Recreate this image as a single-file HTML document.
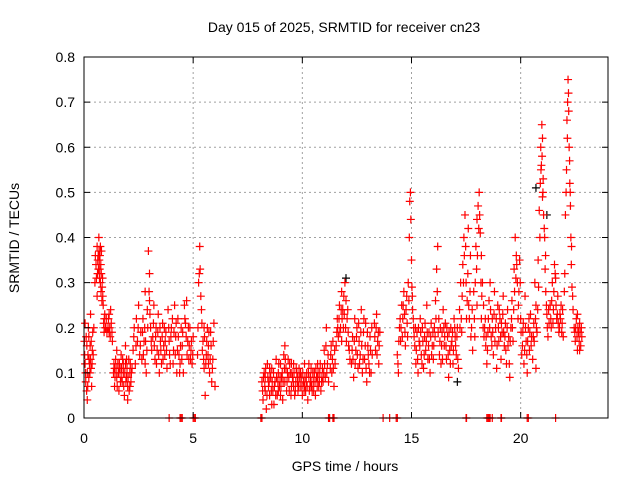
<!DOCTYPE html>
<html><head><meta charset="utf-8"><style>
html,body{margin:0;padding:0;background:#fff;}
svg{display:block;font-family:"Liberation Sans",sans-serif;}
</style></head><body>
<svg id="chart" width="640" height="480" viewBox="0 0 640 480">
<rect x="0" y="0" width="640" height="480" fill="#fff"/>
<text x="344" y="32" font-size="14" text-anchor="middle">Day 015 of 2025, SRMTID for receiver cn23</text>
<text transform="translate(19,238) rotate(-90)" font-size="14" text-anchor="middle">SRMTID / TECUs</text>
<text x="345" y="471" font-size="14" text-anchor="middle">GPS time / hours</text>
<g id="grid"></g><g id="black"></g><g id="red"></g><g id="axes"></g>
</svg>
<script>
const xTicks=[0,5,10,15,20];
const yTicks=[0,0.1,0.2,0.3,0.4,0.5,0.6,0.7,0.8];
const yTickLabels=["0","0.1","0.2","0.3","0.4","0.5","0.6","0.7","0.8"];
const zeroHours=[3.9,4.4,4.45,4.5,5.0,5.05,5.1,8.1,8.15,11.2,11.25,11.4,11.45,13.7,14.0,14.3,14.35,17.5,17.52,18.45,18.5,18.55,18.6,18.7,19.1,19.12,20.3,20.35,21.6];
const blackPoints=[[12.0,0.31],[20.7,0.51],[21.2,0.45],[17.1,0.08]];
const redPoints=[
[0.02,.17],[0.05,.12],[0.08,.08],[0.1,.18],[0.12,.06],[0.15,.1],[0.18,.14],[0.2,.2],[0.22,.09],[0.25,.12],[0.28,.16],[0.3,.23],[0.32,.11],[0.35,.07],[0.38,.15],[0.4,.19],[0.05,.21],[0.15,.04],[0.3,.13],[0.22,.18],
[0.5,.3],[0.55,.34],[0.6,.38],[0.62,.32],[0.65,.36],[0.68,.4],[0.7,.35],[0.72,.33],[0.75,.3],[0.78,.28],[0.8,.37],[0.82,.26],[0.85,.31],[0.88,.25],[0.9,.21],[0.92,.19],[0.95,.23],[1.0,.2],[0.6,.27],[0.75,.38],
[1.1,.2],[1.15,.23],[1.2,.18],[1.25,.21],[1.3,.17],[1.15,.19],
[1.35,.1],[1.4,.07],[1.45,.13],[1.5,.09],[1.55,.12],[1.6,.06],[1.65,.11],[1.7,.14],[1.75,.08],[1.8,.1],[1.85,.05],[1.9,.12],[1.95,.09],[2.0,.07],[2.05,.13],[2.1,.1],[2.15,.08],[2.2,.11],[1.5,.15],[1.9,.16],[2.0,.04],[1.7,.09],
[2.25,.15],[2.3,.2],[2.35,.12],[2.4,.22],[2.45,.17],[2.5,.25],[2.55,.14],[2.6,.19],
[2.65,.13],[2.7,.22],[2.75,.17],[2.8,.28],[2.85,.1],[2.9,.24],[2.95,.37],[3.0,.32],[3.05,.2],[3.1,.15],[2.8,.12],[3.0,.26],
[3.15,.18],[3.2,.25],[3.25,.13],[3.3,.2],[3.35,.15],[3.4,.23],[3.45,.1],[3.5,.17],[3.55,.12],[3.6,.21],[3.65,.16],[3.7,.14],[3.75,.19],[3.8,.11],
[3.85,.24],[3.9,.17],[3.95,.12],[4.0,.2],[4.1,.15],[4.15,.25],[4.2,.18],[4.25,.1],[4.3,.22],[4.35,.14],[4.4,.12],[4.45,.2],[4.5,.16],[4.55,.1],
[4.6,.25],[4.65,.21],[4.7,.26],[4.75,.17],[4.8,.13],[4.85,.2],[4.9,.15],[4.95,.12],[5.0,.18],
[5.2,.14],[5.25,.3],[5.3,.38],[5.32,.33],[5.35,.27],[5.4,.21],[5.45,.17],[5.5,.11],[5.55,.05],[5.6,.14],[5.65,.2],[5.7,.16],[5.75,.1],[5.8,.19],[5.85,.08],[5.9,.13],[5.95,.21],[6.0,.07],[5.5,.2],[5.7,.12],
[8.15,.08],[8.2,.04],[8.25,.1],[8.3,.06],[8.35,.02],[8.4,.12],[8.45,.07],[8.5,.05],[8.55,.09],[8.6,.11],[8.65,.06],[8.7,.03],[8.75,.08],[8.8,.13],[8.85,.05],[8.9,.1],[8.95,.07],[9.0,.12],[9.05,.09],[9.1,.04],[9.15,.14],[9.2,.16],[9.25,.11],[9.3,.08],[9.35,.13],[9.4,.06],[9.45,.1],[9.5,.07],[9.55,.09],[9.6,.12],[9.65,.05],[9.7,.08],[9.75,.1],[9.8,.06],[9.85,.11],[9.9,.07],[9.95,.09],[10.0,.05],[10.05,.08],[10.1,.12],[10.15,.06],[10.2,.1],[10.25,.04],[10.3,.09],[10.35,.07],[10.4,.11],[10.45,.06],[10.5,.08],[10.55,.1],[10.6,.05],[10.65,.09],[10.7,.12],[10.75,.07],[10.8,.1],[10.85,.06],[10.9,.09],[10.95,.08],[8.3,.09],[8.6,.03],[8.9,.06],[9.2,.08],[9.5,.12],[9.8,.09],[10.1,.07],[10.4,.08],[10.7,.09],[8.5,.11],[9.0,.05],[9.6,.07],[10.3,.12],
[11.0,.15],[11.05,.09],[11.1,.2],[11.15,.12],[11.2,.08],[11.3,.14],[11.35,.1],[11.4,.17],[11.45,.07],[11.5,.12],
[11.55,.16],[11.6,.22],[11.65,.18],[11.7,.25],[11.75,.2],[11.8,.28],[11.85,.24],[11.9,.27],[11.95,.3],[12.0,.26],[12.05,.22],[12.1,.19],[12.15,.15],[11.8,.17],
[12.25,.12],[12.3,.18],[12.35,.09],[12.4,.22],[12.45,.15],[12.5,.2],[12.55,.11],[12.6,.17],[12.65,.14],[12.7,.24],[12.75,.1],[12.8,.19],[12.85,.13],[12.9,.21],[12.95,.08],[13.0,.16],[13.05,.12],[13.1,.18],[13.15,.1],[13.2,.14],
[13.3,.21],[13.35,.15],[13.4,.23],[13.45,.17],[13.5,.12],[13.55,.19],
[14.35,.14],[14.4,.1],[14.45,.2],[14.5,.17],[14.55,.25],[14.6,.22],[14.65,.28],[14.7,.19],[14.75,.24],[14.8,.21],[14.85,.3],[14.9,.4],[14.92,.48],[14.95,.5],[14.97,.44],[15.0,.35],[15.02,.29],[15.05,.24],[15.1,.2],
[15.15,.16],[15.2,.12],[15.25,.19],[15.3,.1],[15.35,.17],[15.4,.22],[15.45,.14],[15.5,.2],[15.55,.11],[15.6,.18],[15.65,.15],[15.7,.25],[15.75,.13],[15.8,.19],[15.85,.1],[15.9,.21],[15.95,.16],[16.0,.13],[16.05,.2],[16.1,.26],[16.15,.33],[16.2,.38],[16.25,.22],[16.3,.17],[16.35,.12],[16.4,.19],[16.45,.24],[16.5,.16],[16.55,.21],[16.6,.13],[16.65,.18],[16.7,.09],[16.75,.15],[16.8,.2],[16.85,.17],[16.9,.12],[16.95,.22],[17.0,.18],[17.05,.14],[17.1,.2],[17.15,.11],
[17.2,.24],[17.25,.3],[17.3,.19],[17.35,.34],[17.4,.4],[17.45,.45],[17.5,.3],[17.55,.26],[17.6,.42],[17.65,.22],[17.7,.36],[17.75,.2],[17.8,.15],
[17.85,.28],[17.9,.18],[17.95,.38],[18.0,.44],[18.05,.47],[18.1,.5],[18.12,.45],[18.15,.41],[18.2,.36],[18.25,.3],[18.3,.25],[18.35,.2],[18.4,.16],[18.45,.12],[18.5,.19],[18.0,.25],[18.2,.22],
[18.55,.26],[18.6,.3],[18.65,.18],[18.7,.22],[18.75,.14],[18.8,.28],[18.85,.2],[18.9,.11],[18.95,.25],[19.0,.17],[19.05,.22],[19.1,.13],[19.15,.19],[19.2,.27],[19.25,.16],[19.3,.21],[19.35,.12],[19.4,.24],[19.45,.18],[19.5,.09],
[19.55,.2],[19.6,.26],[19.65,.17],[19.7,.33],[19.75,.4],[19.8,.36],[19.85,.3],[19.9,.25],[19.95,.35],[20.0,.22],[20.05,.14],[20.1,.19],[20.15,.12],[20.2,.27],[20.25,.17],[20.3,.1],[20.35,.2],[20.4,.15],[20.45,.23],[20.5,.18],
[20.55,.13],[20.6,.21],[20.65,.3],[20.7,.25],[20.75,.19],[20.8,.35],[20.85,.46],[20.9,.52],[20.92,.6],[20.95,.56],[20.97,.65],[21.0,.62],[21.02,.5],[21.05,.45],[21.1,.4],[21.12,.33],[21.15,.28],[21.2,.23],[21.25,.18],[21.3,.21],[20.7,.11],[21.0,.49],
[21.35,.25],[21.4,.2],[21.45,.3],[21.5,.24],[21.55,.34],[21.6,.31],[21.65,.22],[21.7,.27],[21.75,.19],[21.8,.23],[21.85,.25],[21.9,.21],[21.95,.18],
[22.0,.28],[22.05,.45],[22.1,.55],[22.12,.66],[22.15,.7],[22.17,.75],[22.2,.68],[22.22,.6],[22.25,.52],[22.28,.47],[22.3,.4],[22.32,.34],[22.35,.29],[22.4,.24],
[22.45,.2],[22.5,.17],[22.55,.22],[22.6,.15],[22.65,.19],[22.7,.21],[22.75,.16],[22.8,.18],[22.6,.23]
];
const redPointsExtra=[
[0.03,.14],[0.07,.1],[0.13,.16],[0.17,.07],[0.23,.13],[0.27,.1],[0.33,.17],[0.37,.12],[0.42,.14],[0.45,.2],
[0.52,.36],[0.57,.31],[0.63,.35],[0.66,.33],[0.69,.37],[0.71,.31],[0.73,.36],[0.77,.34],[0.79,.32],[0.83,.29],[0.86,.27],[0.93,.22],[0.97,.2],[1.02,.22],[1.05,.19],
[1.12,.22],[1.18,.2],[1.22,.24],[1.28,.19],
[1.37,.12],[1.42,.09],[1.47,.11],[1.52,.07],[1.57,.1],[1.62,.12],[1.67,.08],[1.72,.11],[1.77,.13],[1.82,.07],[1.87,.1],[1.92,.08],[1.97,.11],[2.02,.09],[2.07,.06],[2.12,.12],[2.17,.1],[1.6,.1],[1.8,.12],[2.1,.07],[1.4,.11],[1.95,.13],
[2.28,.18],[2.38,.16],[2.48,.2],[2.58,.16],[2.68,.19],[2.72,.14],[2.78,.2],[2.82,.17],[2.88,.15],[2.92,.2],[2.98,.28],[3.02,.23],[3.08,.17],
[3.18,.21],[3.22,.16],[3.28,.18],[3.32,.12],[3.38,.19],[3.42,.14],[3.48,.2],[3.52,.15],[3.58,.18],[3.62,.13],[3.68,.2],[3.72,.17],[3.78,.15],
[3.88,.2],[3.92,.14],[3.98,.18],[4.05,.22],[4.08,.12],[4.12,.19],[4.18,.14],[4.22,.21],[4.28,.15],[4.32,.18],[4.38,.1],[4.42,.16],[4.48,.13],[4.52,.19],[4.62,.22],[4.68,.18],[4.72,.14],[4.78,.2],[4.82,.16],[4.88,.13],[4.92,.17],[4.98,.14],
[5.22,.2],[5.28,.32],[5.38,.24],[5.42,.15],[5.48,.13],[5.52,.18],[5.58,.12],[5.62,.17],[5.68,.14],[5.72,.19],[5.78,.13],[5.82,.16],[5.88,.11],[5.92,.17],
[8.18,.06],[8.22,.09],[8.28,.07],[8.32,.11],[8.38,.05],[8.42,.09],[8.48,.08],[8.52,.1],[8.58,.06],[8.62,.08],[8.68,.1],[8.72,.07],[8.78,.05],[8.82,.09],[8.88,.08],[8.92,.12],[8.98,.09],[9.02,.07],[9.08,.1],[9.12,.08],[9.18,.11],[9.22,.13],[9.28,.06],[9.32,.1],[9.38,.09],[9.42,.12],[9.48,.05],[9.52,.1],[9.58,.08],[9.62,.1],[9.68,.06],[9.72,.11],[9.78,.08],[9.82,.07],[9.88,.09],[9.92,.1],[9.98,.07],[10.02,.1],[10.08,.06],[10.12,.09],[10.18,.08],[10.22,.07],[10.28,.1],[10.32,.06],[10.38,.09],[10.42,.07],[10.48,.1],[10.52,.06],[10.58,.08],[10.62,.11],[10.68,.07],[10.72,.1],[10.78,.08],[10.82,.12],[10.88,.08],[10.92,.11],[10.98,.1],
[11.02,.12],[11.08,.16],[11.12,.1],[11.18,.14],[11.28,.11],[11.32,.16],[11.38,.13],[11.42,.11],[11.48,.15],
[11.58,.19],[11.62,.2],[11.68,.22],[11.72,.19],[11.78,.24],[11.82,.22],[11.88,.2],[11.92,.23],[11.98,.2],[12.02,.17],[12.08,.24],[12.12,.16],[12.18,.13],
[12.28,.15],[12.32,.13],[12.38,.17],[12.42,.12],[12.48,.18],[12.52,.14],[12.58,.21],[12.62,.12],[12.68,.19],[12.72,.16],[12.78,.13],[12.82,.22],[12.88,.16],[12.92,.11],[12.98,.19],[13.02,.14],[13.08,.1],[13.12,.15],[13.18,.2],
[13.32,.18],[13.38,.2],[13.42,.14],[13.48,.19],[13.52,.16],
[14.38,.12],[14.42,.17],[14.48,.22],[14.52,.2],[14.58,.18],[14.62,.25],[14.68,.23],[14.72,.16],[14.78,.27],[14.82,.18],[14.88,.26],[15.04,.27],[15.08,.22],
[15.12,.18],[15.18,.2],[15.22,.15],[15.28,.13],[15.32,.2],[15.38,.16],[15.42,.19],[15.48,.12],[15.52,.17],[15.58,.14],[15.62,.21],[15.68,.17],[15.72,.19],[15.78,.16],[15.82,.13],[15.88,.18],[15.92,.14],[15.98,.19],[16.02,.16],[16.08,.18],[16.12,.22],[16.18,.28],[16.22,.19],[16.28,.14],[16.32,.2],[16.38,.16],[16.42,.13],[16.48,.2],[16.52,.18],[16.58,.16],[16.62,.2],[16.68,.14],[16.72,.19],[16.78,.12],[16.82,.16],[16.88,.19],[16.92,.15],[16.98,.2],[17.02,.16],[17.08,.18],[17.12,.13],
[17.22,.2],[17.28,.22],[17.32,.27],[17.38,.3],[17.42,.36],[17.48,.38],[17.52,.22],[17.58,.32],[17.62,.25],[17.68,.28],[17.72,.18],[17.78,.24],
[17.88,.22],[17.92,.3],[17.98,.33],[18.02,.36],[18.08,.42],[18.18,.3],[18.22,.27],[18.28,.2],[18.32,.18],[18.38,.22],[18.42,.18],[18.48,.15],
[18.52,.22],[18.58,.2],[18.62,.24],[18.68,.16],[18.72,.19],[18.78,.23],[18.82,.17],[18.88,.22],[18.92,.16],[18.98,.2],[19.02,.24],[19.08,.18],[19.12,.21],[19.18,.23],[19.22,.19],[19.28,.18],[19.32,.15],[19.38,.2],[19.42,.16],[19.48,.12],
[19.52,.17],[19.58,.22],[19.62,.2],[19.68,.24],[19.72,.28],[19.78,.31],[19.82,.34],[19.88,.22],[19.92,.28],[19.98,.3],[20.02,.19],[20.08,.16],[20.12,.21],[20.18,.15],[20.22,.2],[20.28,.14],[20.32,.17],[20.38,.22],[20.42,.19],[20.48,.16],
[20.58,.18],[20.62,.17],[20.68,.22],[20.72,.2],[20.78,.24],[20.82,.29],[20.88,.4],[20.93,.55],[20.98,.58],[21.03,.53],[21.08,.42],[21.14,.36],[21.18,.25],[21.22,.2],[21.28,.24],
[21.38,.22],[21.42,.26],[21.48,.21],[21.52,.28],[21.58,.32],[21.62,.25],[21.68,.23],[21.72,.21],[21.78,.2],[21.82,.22],[21.88,.19],[21.92,.24],
[22.02,.32],[22.08,.5],[22.14,.62],[22.19,.72],[22.24,.57],[22.27,.5],[22.33,.38],[22.38,.27],
[22.48,.19],[22.52,.2],[22.58,.18],[22.62,.2],[22.68,.17],[22.72,.19],[22.78,.2],[22.7,.15]
];
const X0=84,X1=608,Y0=418,Y1=57,XMAX=24,YMAX=0.8;
function xs(t){return X0+(X1-X0)*t/XMAX;}
function ys(v){return Y0-(Y0-Y1)*v/YMAX;}
const NS="http://www.w3.org/2000/svg";
function mk(tag,attrs,parent){const e=document.createElementNS(NS,tag);for(const k in attrs)e.setAttribute(k,attrs[k]);parent.appendChild(e);return e;}
const grid=document.getElementById('grid'),axes=document.getElementById('axes');
yTicks.forEach((v,i)=>{
  const y=ys(v);
  if(i>0&&i<yTicks.length-1){const g=mk('line',{x1:X0,x2:X1,y1:y,y2:y,stroke:'#a0a0a0','stroke-dasharray':'2,3'},grid);
  
  }
  mk('line',{x1:X0,x2:X0+6,y1:y,y2:y,stroke:'#000'},axes);
  mk('line',{x1:X1-6,x2:X1,y1:y,y2:y,stroke:'#000'},axes);
  const t=mk('text',{x:X0-9,y:y+5,'font-size':14,'text-anchor':'end'},axes);
  t.textContent=yTickLabels[i];
  
  
});
xTicks.forEach(v=>{
  const x=xs(v);
  if(v>0){const g=mk('line',{x1:x,x2:x,y1:Y1,y2:Y0,stroke:'#a0a0a0','stroke-dasharray':'2,3'},grid);
  
  }
  mk('line',{x1:x,x2:x,y1:Y0,y2:Y0-6,stroke:'#000'},axes);
  mk('line',{x1:x,x2:x,y1:Y1,y2:Y1+6,stroke:'#000'},axes);
  const t=mk('text',{x:x,y:Y0+25,'font-size':14,'text-anchor':'middle'},axes);
  t.textContent=String(v);
  
  
});
const border=mk('rect',{x:X0,y:Y1,width:X1-X0,height:Y0-Y1,fill:'none',stroke:'#000'},axes);


function plus(g,t,v,color){
  const x=xs(t),y=ys(v);
  return mk('path',{d:`M${x-4},${y}H${x+4}M${x},${y-4}V${y+4}`,stroke:color,'stroke-width':1.2,fill:'none'},g);
}
const bg=document.getElementById('black'),rg=document.getElementById('red');
blackPoints.forEach(p=>{const e=plus(bg,p[0],p[1],'#000');
  
  });
redPoints.forEach(p=>{const e=plus(rg,p[0],p[1],'#ff0000');
  
  });
redPointsExtra.forEach(p=>{const e=plus(rg,p[0],p[1],'#ff0000');
  
  });
zeroHours.forEach(t=>{const e=plus(rg,t,0,'#ff0000');
  
  });
</script>
</body></html>
